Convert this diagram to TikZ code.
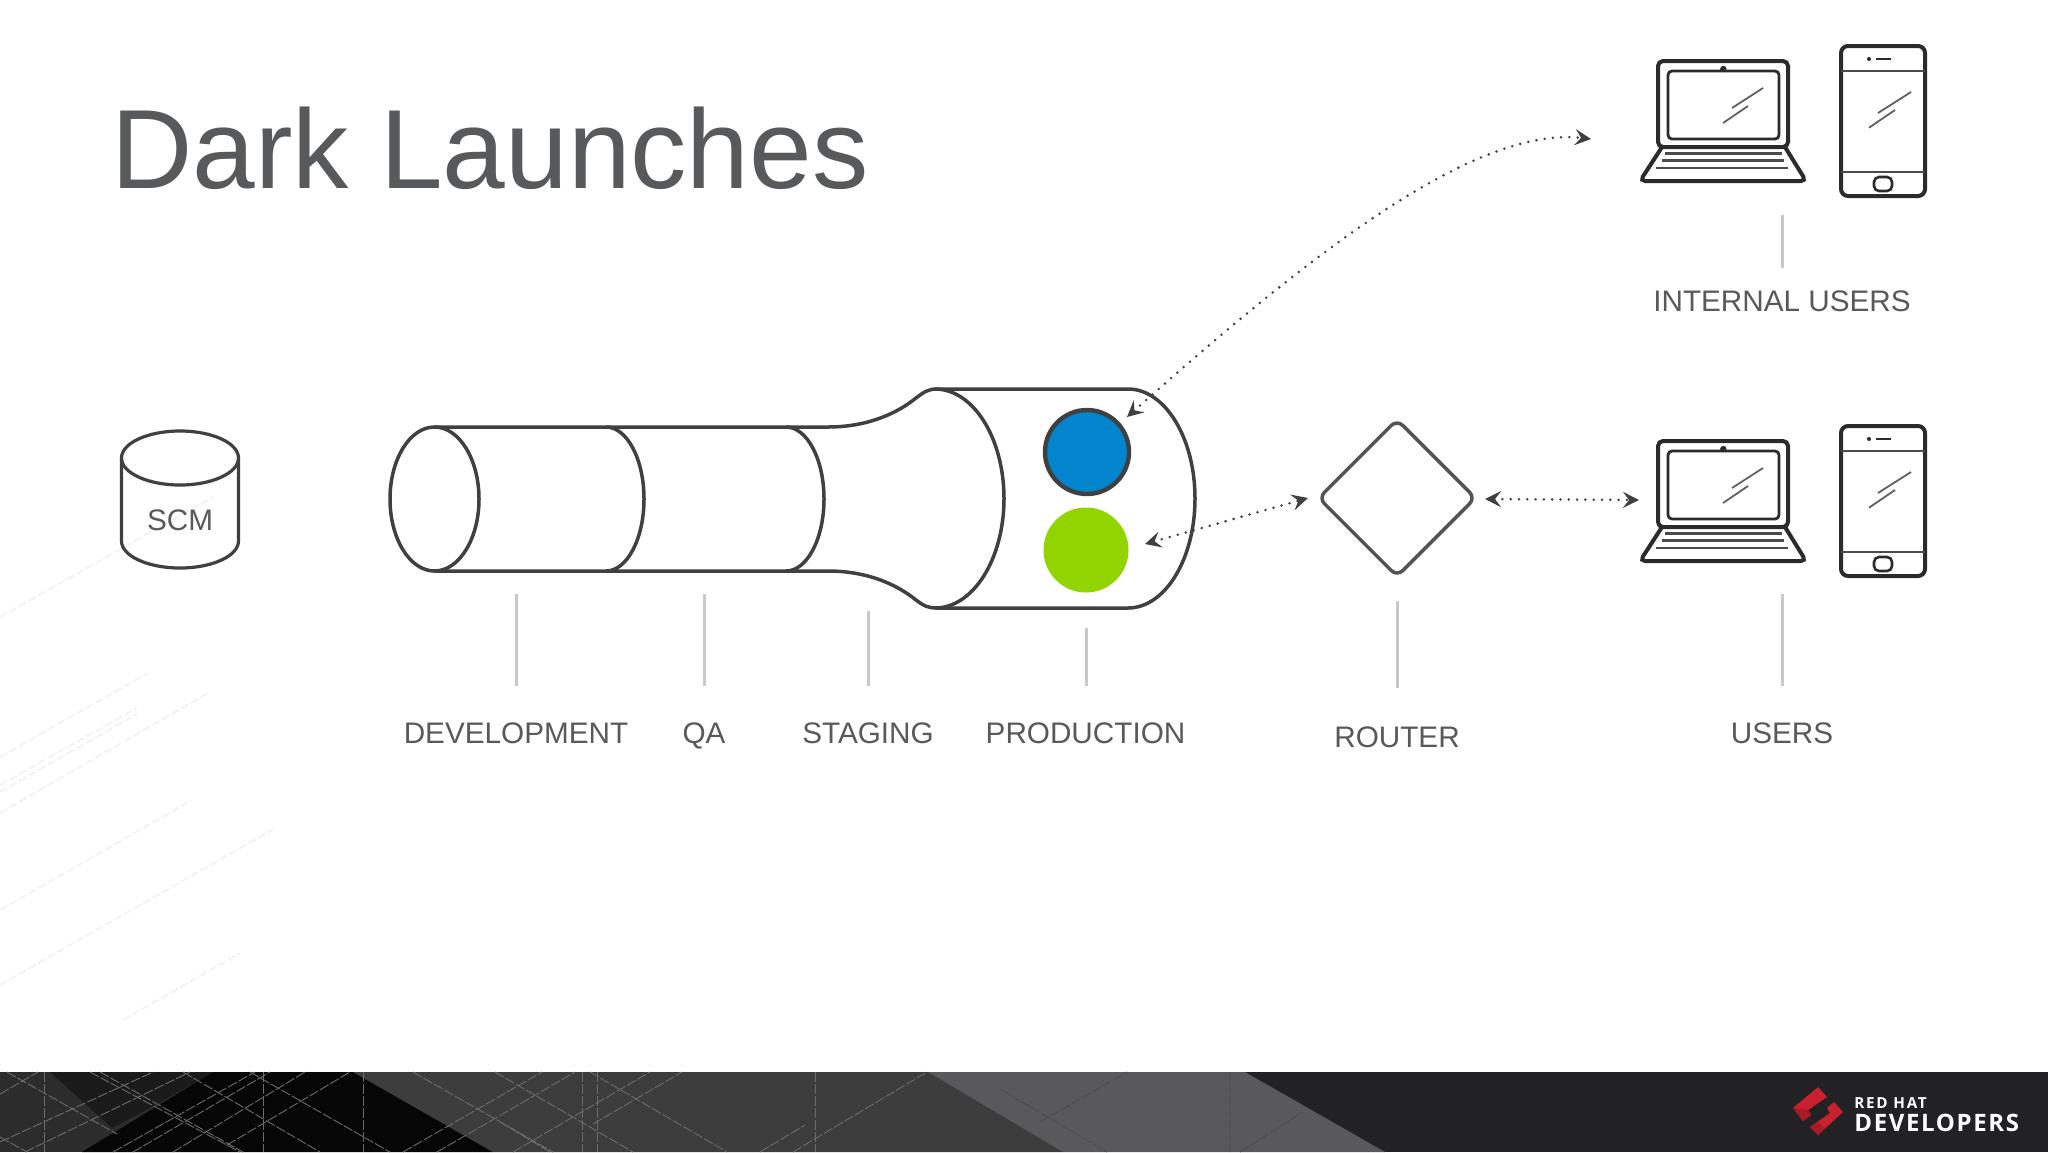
\documentclass[tikz,border=0pt]{standalone}
\usepackage{fontspec}
\setmainfont{Liberation Sans}
\newfontfamily\logoa[LetterSpace=11.5]{Open Sans}
\newfontfamily\logob[LetterSpace=6.75]{Open Sans}
\usetikzlibrary{arrows.meta,shapes.geometric}
\definecolor{inkline}{HTML}{404040}
\definecolor{txt}{HTML}{58595B}
\definecolor{tickc}{HTML}{C8C8C8}
\definecolor{icon}{HTML}{2B2B2B}
\definecolor{blueapp}{HTML}{0385CE}
\definecolor{greenapp}{HTML}{92D400}
\definecolor{fbar}{HTML}{222224}
\definecolor{fleft}{HTML}{2C2C2C}
\definecolor{fdark}{HTML}{1A1A1A}
\definecolor{fblack}{HTML}{060606}
\definecolor{fmid}{HTML}{3C3C3D}
\definecolor{flight}{HTML}{59595B}
\definecolor{rhred}{HTML}{C9202E}
\definecolor{rhdark}{HTML}{A81B26}
\definecolor{gridc}{HTML}{6C6C6C}
\definecolor{griddk}{HTML}{4A4A4C}
\definecolor{faintc}{HTML}{F1F1F1}
\tikzset{
  pipe/.style={draw=inkline,line width=1.75pt},
  label/.style={font=\fontsize{14.85pt}{17pt}\selectfont,text=txt,inner sep=0pt,anchor=base},
  tick/.style={draw=tickc,line width=1.5pt},
  dots/.style={draw=inkline,line width=1.4pt,line cap=round,dash pattern=on 0pt off 4.15pt,
    {Stealth[length=8pt,width=8pt,inset=3pt,line cap=butt]}-{Stealth[length=8pt,width=8pt,inset=3pt,line cap=butt]}},
  gridl/.style={draw=gridc,line width=.45pt,dash pattern=on 5pt off 1pt},
  gridd/.style={draw=griddk,line width=.45pt,dash pattern=on 5pt off 1pt},
  faint/.style={draw=faintc,line width=.8pt,dash pattern=on 4pt off 1.5pt},
  ic/.style={draw=icon,line width=2pt},
  ict/.style={draw=icon!85,line width=1.1pt},
  devices/.pic={
    \draw[ic,rounded corners=2.5pt] (1658,61) rectangle (1788,147);
    \draw[ic,line width=1.4pt,rounded corners=2pt] (1668,71) rectangle (1779,139);
    \fill[icon] (1723.3,69) circle[radius=3.2];
    \draw[ic,rounded corners=2.5pt] (1662,147) -- (1640,181) -- (1806,181) -- (1785,147);
    \draw[ict] (1665,153.5) -- (1782,153.5);
    \draw[ict] (1662,160.5) -- (1784,160.5);
    \draw[ict] (1656,167.7) -- (1788,167.7);
    \draw[ict,draw=icon!75,line width=.9pt] (1732,108) -- (1763,88) (1723,123) -- (1748,106);
    \draw[ic,rounded corners=3.5pt] (1841,46) rectangle (1925,196);
    \draw[ict] (1841,70.7) -- (1925,70.7) (1841,172) -- (1925,172);
    \fill[icon] (1869,59) circle[radius=2];
    \draw[ic,line width=1.2pt] (1876,59) -- (1891,59);
    \draw[ict,draw=icon!75,line width=.9pt] (1878,113) -- (1911,92) (1869,127.7) -- (1895,110);
    \draw[ic,line width=1.3pt,rounded corners=2.5pt] (1874,177) rectangle (1892,191);
  }
}
\begin{document}
\begin{tikzpicture}[x=0.5pt,y=-0.5pt]
\useasboundingbox (0,0) rectangle (2048,1152);
\fill[white] (0,0) rectangle (2048,1152);
% faint background streaks
\draw[faint] (0,617) -- (213,497);
\draw[faint] (0,757) -- (148,673);
\draw[faint] (0,785) -- (137,708);
\draw[faint] (0,792) -- (137,714);
\draw[faint] (0,813) -- (208,693);
\draw[faint] (0,910) -- (192,800);
\draw[faint] (0,985) -- (277,827);
\draw[faint] (123,1020) -- (240,953);
% footer
\fill[fbar] (0,1072) rectangle (2048,1152);
\fill[fleft] (0,1072) rectangle (300,1152);
\fill[fdark] (50,1072) -- (213,1072) -- (150,1108) -- (112,1128) -- cycle;
\fill[fblack] (213,1072) -- (353,1072) -- (493,1152) -- (82,1152) -- cycle;
\fill[fmid] (353,1072) -- (928,1072) -- (1063,1152) -- (493,1152) -- cycle;
\fill[flight] (928,1072) -- (1245,1072) -- (1385,1152) -- (1063,1152) -- cycle;
\draw[gridl] (44,1072) -- (44,1152) (263,1072) -- (263,1152) (363,1072) -- (363,1152)
  (582,1072) -- (582,1152) (597,1072) -- (597,1152) (815,1072) -- (815,1152);
\draw[gridl] (0,1094) -- (38,1072) (0,1142) -- (153,1072) (25,1152) -- (190,1072)
  (113,1152) -- (255,1072) (133,1152) -- (270,1072) (173,1152) -- (305,1072) (227,1145) -- (350,1072)
  (403,1152) -- (542,1072) (437,1152) -- (575,1072) (513,1152) -- (650,1072) (593,1124) -- (682,1072)
  (760,1152) -- (805,1125) (793,1152) -- (927,1072);
\draw[gridl] (7,1072) -- (117,1134) (90,1072) -- (240,1152) (100,1072) -- (243,1152)
  (0,1137) -- (27,1152) (183,1072) -- (320,1152) (250,1072) -- (390,1152)
  (413,1072) -- (553,1152) (495,1072) -- (633,1152) (590,1072) -- (727,1152) (500,1122) -- (550,1152);
\draw[gridd] (1230,1072) -- (1230,1152) (1000,1089) -- (1107,1152) (1040,1122) -- (1127,1072) (1240,1152) -- (1303,1112);
% logo
\fill[rhred] (1793,1108) -- (1818,1087) -- (1827,1097) -- (1808,1110) -- (1811,1115) -- (1803,1121) -- cycle;
\fill[rhred] (1843,1112) -- (1818,1135) -- (1810,1127) -- (1830,1113) -- (1827,1108) -- (1834,1102) -- cycle;
\fill[rhdark] (1793,1108) -- (1803,1121) -- (1811,1115) -- (1808,1110) -- (1801,1109) -- cycle;
\fill[rhdark] (1818,1135) -- (1810,1127) -- (1817,1122) -- (1825,1128) -- cycle;
\node[anchor=base west,inner sep=0pt,text=white] (rh) at (1854,1108) {\logoa\fontsize{7.6pt}{9pt}\selectfont\bfseries RED HAT};
\node[anchor=base west,inner sep=0pt,text=white] (dev) at (1854,1131) {\logob\fontsize{12pt}{14pt}\selectfont\bfseries DEVELOPERS};
% title
\node[anchor=base,inner sep=0pt,text=txt,font=\fontsize{56.3pt}{60pt}\selectfont] (title) at (490,188) {Dark Launches};
% SCM
\draw[pipe,line width=1.6pt] (180,458) ellipse[x radius=58.5,y radius=27];
\draw[pipe,line width=1.6pt] (121.5,458) -- (121.5,541) arc[start angle=180,end angle=0,x radius=58.5,y radius=27] -- (238.5,458);
\node[label] (scm) at (180,530.7) {SCM};
% pipeline
\draw[pipe] (434.5,499) ellipse[x radius=44.5,y radius=72];
\draw[pipe] (434,427) -- (828,427) .. controls (865,427) and (895,415) .. (916,398)
  .. controls (924,392) and (928,389) .. (937,389) -- (1128,389)
  arc[start angle=-90,end angle=90,x radius=67,y radius=109.5]
  -- (937,608) .. controls (928,608) and (924,606) .. (916,600)
  .. controls (895,583) and (865,571) .. (828,571) -- (434,571);
\draw[pipe] (606,427) arc[start angle=-90,end angle=90,x radius=38,y radius=72];
\draw[pipe] (786,427) arc[start angle=-90,end angle=90,x radius=38,y radius=72];
\draw[pipe] (935,389) arc[start angle=-90,end angle=90,x radius=69,y radius=109.5];
% apps
\node[circle,draw=inkline,line width=2.2pt,fill=blueapp,minimum size=42pt,inner sep=0pt] (blue) at (1087,452) {};
\node[circle,fill=greenapp,minimum size=42.5pt,inner sep=0pt] (green) at (1086,550) {};
% router
\node[diamond,draw=inkline!90,line width=1.75pt,rounded corners=4pt,minimum width=79pt,minimum height=79pt,inner sep=0pt] (router) at (1397,498) {};
% devices
\pic at (0,0) {devices};
\pic at (0,380) {devices};
% labels
\node[label] (ldev) at (516,743.7) {DEVELOPMENT};
\node[label] (lqa) at (704,743.7) {QA};
\node[label] (lstg) at (868,743.7) {STAGING};
\node[label] (lprod) at (1085.5,743.7) {PRODUCTION};
\node[label] (lrouter) at (1397,747.7) {ROUTER};
\node[label] (lusers) at (1782,743.7) {USERS};
\node[label] (lint) at (1782,311.7) {INTERNAL USERS};
% ticks
\coordinate (td1) at (516,594); \coordinate (td2) at (516,686);
\coordinate (tq1) at (704,594); \coordinate (tq2) at (704,686);
\coordinate (ts1) at (868,611); \coordinate (ts2) at (868,686);
\coordinate (tp1) at (1086,628); \coordinate (tp2) at (1086,686);
\coordinate (tr1) at (1397,601); \coordinate (tr2) at (1397,688);
\coordinate (tu1) at (1782,594); \coordinate (tu2) at (1782,686);
\coordinate (ti1) at (1782,215); \coordinate (ti2) at (1782,268);
\draw[tick] (td1) -- (td2);
\draw[tick] (tq1) -- (tq2);
\draw[tick] (ts1) -- (ts2);
\draw[tick] (tp1) -- (tp2);
\draw[tick] (tr1) -- (tr2);
\draw[tick] (tu1) -- (tu2);
\draw[tick] (ti1) -- (ti2);
% dotted connectors
\coordinate (a1) at (1127,417); \coordinate (a2) at (1591,139);
\coordinate (b1) at (1145,544); \coordinate (b2) at (1308,498);
\coordinate (c1) at (1485,499); \coordinate (c2) at (1639,500);
\draw[dots] (a1) .. controls (1297,266) and (1470,125) .. (a2);
\draw[dots] (b1) -- (b2);
\draw[dots] (c1) -- (c2);
\end{tikzpicture}
\end{document}
